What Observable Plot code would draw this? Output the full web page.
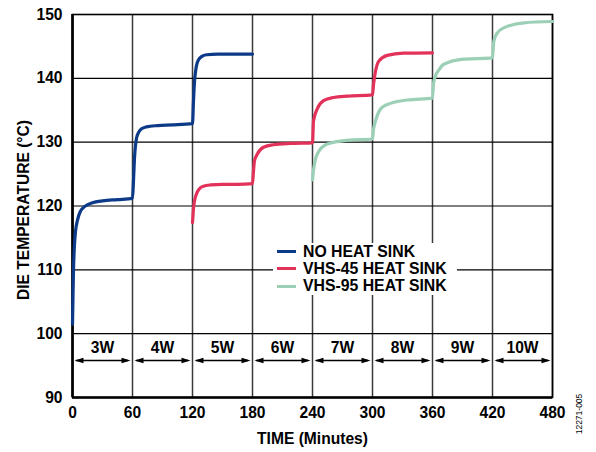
<!DOCTYPE html>
<html><head><meta charset="utf-8">
<script src="https://cdn.jsdelivr.net/npm/d3@7"></script>
<script src="https://cdn.jsdelivr.net/npm/@observablehq/plot@0.6"></script>
<style>
body{margin:0;background:#fff;}
#wrap{position:relative;width:596px;height:452px;font-family:"Liberation Sans",Arial,sans-serif;}
#legend{position:absolute;left:273px;top:243px;width:184px;height:52px;background:#fff;padding-top:0px;}
.row{display:flex;align-items:center;height:17.3px;font-weight:bold;font-size:15.8px;color:#000;white-space:nowrap;}
.sw{width:19px;height:3px;margin-left:4px;margin-right:7px;}
#code{position:absolute;left:579px;top:414px;transform:translate(-50%,-50%) rotate(-90deg);font-size:8.5px;color:#000;white-space:nowrap;}
</style></head>
<body>
<div id="wrap"></div>
<script>
// ---- data ----
const seriesNames = ["NO HEAT SINK", "VHS-45 HEAT SINK", "VHS-95 HEAT SINK"];
const seriesColors = ["#0c3a88", "#e2325a", "#9bd0b6"];

const noSinkTime = [0, 0.5, 1, 2, 3, 5, 8, 12, 20, 30, 45, 60,
  61, 62, 63, 64, 66, 69, 74, 85, 100, 120,
  121, 122, 123, 124, 126, 129, 134, 145, 160, 180];
const noSinkTemp = [101.5, 106, 110, 114, 116, 117.8, 119.2, 119.9, 120.5, 120.8, 121.0, 121.2,
  124, 127.5, 129.5, 130.6, 131.5, 132.1, 132.4, 132.6, 132.7, 132.9,
  136.5, 139.5, 141, 142, 142.9, 143.4, 143.7, 143.8, 143.8, 143.8];

const vhs45Time = [120, 120.5, 121, 122, 124, 127, 131, 138, 150, 165, 180,
  181, 182, 184.7, 191, 201, 218, 240,
  241, 244.7, 251, 261, 275, 300,
  301, 303, 306.3, 314.7, 331, 360];
const vhs45Temp = [117.4, 118.5, 119.6, 120.8, 121.9, 122.7, 123.1, 123.3, 123.4, 123.4, 123.5,
  125.5, 127.1, 128.1, 129.2, 129.6, 129.8, 129.9,
  133.3, 135.2, 136.5, 137.0, 137.2, 137.4,
  139, 141.1, 142.7, 143.6, 143.95, 144.0];

const vhs95Time = [240, 241, 242.5, 244.7, 254.7, 274.7, 300,
  301, 303, 308, 314.7, 334.7, 360,
  361, 363, 366.3, 371.3, 391.3, 420,
  421.3, 424.7, 431.3, 451.3, 480];
const vhs95Temp = [124.1, 125.6, 127, 128.1, 129.7, 130.3, 130.5,
  132, 133.3, 135.2, 135.9, 136.6, 136.9,
  139.2, 140.4, 141.3, 142.2, 143.0, 143.2,
  145.8, 147.1, 147.9, 148.7, 148.9];

const segStarts = [0, 60, 120, 180, 240, 300, 360, 420];
const segLabels = ["3W", "4W", "5W", "6W", "7W", "8W", "9W", "10W"];
const xTicks = [0, 60, 120, 180, 240, 300, 360, 420, 480];
const yTicks = [90, 100, 110, 120, 130, 140, 150];

// ---- build tables ----
const data = [
  ...noSinkTime.map((t, i) => ({t, v: noSinkTemp[i], s: seriesNames[0]})),
  ...vhs45Time.map((t, i) => ({t, v: vhs45Temp[i], s: seriesNames[1]})),
  ...vhs95Time.map((t, i) => ({t, v: vhs95Temp[i], s: seriesNames[2]}))
];
const segs = segStarts.map((s, i) => ({start: s, end: s + 60, label: segLabels[i]}));
const arrowY = 95.8, labelY = 97.7;

const head = {draw(ctx, l, r) { ctx.moveTo(0, 0); ctx.lineTo(-r, l); ctx.lineTo(r, l); ctx.closePath(); }};

const chart = Plot.plot({
  width: 596, height: 452,
  marginLeft: 72, marginRight: 44, marginTop: 14, marginBottom: 55,
  style: {fontFamily: "'Liberation Sans', Arial, sans-serif", fontSize: "15.6px", fontWeight: "bold", background: "#fff", color: "#000"},
  x: {domain: [0, 480], ticks: xTicks, label: null},
  y: {domain: [90, 150], ticks: yTicks, label: null},
  color: {domain: seriesNames, range: seriesColors},
  marks: [
    Plot.gridX(xTicks, {stroke: "#3a3a3a", strokeOpacity: 1, strokeWidth: 1.5}),
    Plot.gridY(yTicks, {stroke: "#000", strokeOpacity: 1, strokeWidth: 1.2}),
    Plot.frame({stroke: "#000", strokeWidth: 1.6}),
    Plot.ruleX([0], {stroke: "#000", strokeWidth: 2.6}),
    Plot.ruleY([90], {stroke: "#000", strokeWidth: 2.6}),
    Plot.axisX({ticks: xTicks, tickSize: 0, tickPadding: 9, label: null, fontWeight: "bold"}),
    Plot.axisY({ticks: yTicks, tickSize: 0, tickPadding: 10, label: null, fontWeight: "bold"}),
    Plot.ruleY(segs, {x1: "start", x2: "end", y: () => arrowY, insetLeft: 4, insetRight: 4, stroke: "#000", strokeWidth: 1.5}),
    Plot.vector(segs, {x: "start", y: () => arrowY, rotate: -90, anchor: "start", shape: head, length: 9, r: 2.8, fill: "#000", stroke: "none", dx: 2}),
    Plot.vector(segs, {x: "end", y: () => arrowY, rotate: 90, anchor: "start", shape: head, length: 9, r: 2.8, fill: "#000", stroke: "none", dx: -2}),
    Plot.text(segs, {x: d => (d.start + d.end) / 2, y: () => labelY, text: "label", fill: "#000"}),
    Plot.line(data, {x: "t", y: "v", z: "s", stroke: "s", curve: "monotone-x", strokeWidth: 3.2}),
    Plot.text(["DIE TEMPERATURE (°C)"], {frameAnchor: "left", text: d => d, rotate: -90, textAnchor: "middle", lineAnchor: "middle", dx: -49, dy: 4, fill: "#000"}),
    Plot.text(["TIME (Minutes)"], {frameAnchor: "bottom", text: d => d, textAnchor: "middle", lineAnchor: "middle", dy: 41, fill: "#000"})
  ]
});

const wrap = document.getElementById("wrap");
wrap.appendChild(chart);

const legend = document.createElement("div");
legend.id = "legend";
seriesNames.forEach((n, i) => {
  const row = document.createElement("div");
  row.className = "row";
  const sw = document.createElement("span");
  sw.className = "sw";
  sw.style.background = seriesColors[i];
  const lab = document.createElement("span");
  lab.textContent = n;
  row.appendChild(sw); row.appendChild(lab);
  legend.appendChild(row);
});
wrap.appendChild(legend);

const code = document.createElement("div");
code.id = "code";
code.textContent = "12271-005";
wrap.appendChild(code);
</script>
</body></html>
